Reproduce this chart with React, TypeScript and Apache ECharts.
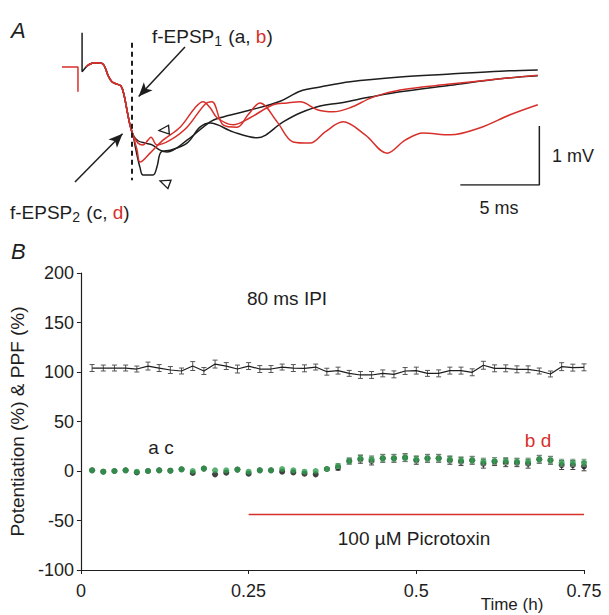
import React, { useEffect, useRef } from "react";
import * as echarts from "echarts";

const FONT = "'Liberation Sans', Arial, Helvetica, sans-serif";
const RED = "#d7302b";
const GREEN = "#2f9e4d";
const INK = "#1e1e1e";

// ---------- Panel A: field EPSP traces, [time (ms), voltage (mV)] ----------
const redArtifact = [[0, 0], [1.01, 0], [1.01, -0.42]];
const blackArtifact = [[1.27, 0.58], [1.27, -0.08], [1.52, 0]];
const commonOnset = [
  [1.52, 0], [1.77, 0.05], [2.15, 0.07], [2.59, 0.05], [2.91, -0.14], [3.16, -0.25],
  [3.48, -0.29], [3.73, -0.32], [3.92, -0.47], [4.11, -0.73], [4.3, -0.98], [4.49, -1.15],
];
const traceBlackA = [
  [4.81, -1.25], [5.25, -1.29], [5.7, -1.32], [6.2, -1.41], [6.65, -1.44], [7.91, -1.24],
  [9.37, -0.93], [10.0, -0.86], [11.9, -0.73], [13.8, -0.58], [15.06, -0.41], [16.33, -0.34],
  [18.23, -0.25], [21.39, -0.17], [24.56, -0.12], [27.72, -0.07], [30.1, -0.05],
];
const traceBlackC = [
  [4.68, -1.41], [4.94, -1.71], [5.13, -1.83], [5.76, -1.83], [6.01, -1.69], [6.27, -1.44],
  [6.84, -1.41], [7.91, -1.29], [8.73, -1.02], [9.37, -0.95], [10.82, -1.1], [12.34, -1.2],
  [13.99, -0.93], [15.06, -0.78], [16.33, -0.66], [17.59, -0.61], [19.49, -0.51], [21.39, -0.42],
  [24.56, -0.31], [27.72, -0.2], [30.1, -0.15],
];
const traceRedB = [
  [4.75, -1.41], [4.94, -1.61], [5.57, -1.46], [6.39, -1.24], [7.47, -1.02], [8.42, -0.69],
  [8.92, -0.59], [9.37, -0.69], [9.81, -0.86], [10.82, -0.98], [11.9, -0.86], [13.35, -0.64],
  [14.24, -0.61], [15.06, -0.59], [16.2, -0.73], [17.15, -0.76], [18.23, -0.69], [19.68, -0.51],
  [21.39, -0.39], [24.56, -0.29], [27.72, -0.2], [30.1, -0.14],
];
const traceRedD = [
  [4.81, -1.29], [5.13, -1.32], [5.44, -1.24], [5.63, -1.19], [6.01, -1.32], [6.84, -1.24],
  [7.91, -1.02], [9.05, -0.63], [9.49, -0.59], [10.19, -0.98], [11.08, -1.02], [11.77, -0.81],
  [12.53, -0.61], [13.61, -0.93], [14.62, -1.27], [15.7, -1.29], [16.65, -1.1], [17.78, -0.93],
  [19.18, -1.15], [20.57, -1.46], [21.71, -1.24], [22.85, -1.12], [24.56, -1.15], [26.46, -1.03],
  [28.35, -0.81], [30.1, -0.64],
];
const scaleBar = [[25.2, -2], [30.2, -2], [30.2, -1]]; // 5 ms, 1 mV
const stimMarkerTime = 4.41;

// ---------- Panel B: time course ----------
const timeMin = [
  1, 2, 3, 4, 5, 6, 7, 8, 9, 10, 11, 12, 13, 14, 15, 16, 17, 18, 19, 20, 21, 22, 23,
  24, 25, 26, 27, 28, 29, 30, 31, 32, 33, 34, 35, 36, 37, 38, 39, 40, 41, 42, 43, 44, 45,
];
const ppf = [
  104, 104, 104, 104, 103, 106, 104, 102, 101, 106, 101, 108, 106, 103, 106, 103, 103, 105, 104,
  103.7, 105, 100.3, 101.4, 98.6, 97, 97, 98.6, 97.6, 101, 101.4, 98.6, 98.6, 101.4, 101.4, 99.7,
  106.8, 103.7, 103.7, 102.7, 102.7, 101, 98, 105.4, 104.4, 104.7,
];
const ppfErr = [
  3.5, 3, 3, 3, 3, 4, 3.5, 3.5, 3, 4.5, 3.5, 4, 3.5, 4, 3.5, 3.5, 3.5, 3, 3.5,
  3.5, 3, 3.5, 3.5, 3, 3.5, 3.5, 3.5, 3.5, 3.5, 3.5, 3, 3.5, 3.5, 3.5, 3.5, 4, 3.5, 3.5, 3.5,
  3.5, 3, 3, 4, 3.5, 3.5,
];
const potGreen = [
  0.7, -0.7, 0, 0.7, -0.7, 0, 0.7, 0.3, 1.7, 0, 2.4, 0.7, 0.7, 1.4, -0.7, 0.7, 0.7, 2, 0.7, -0.7, 0,
  2, 5, 10, 12.8, 11.8, 12.8, 12.8, 13.5, 11.8, 12.8, 12.8, 11.8, 10.8, 10.8, 9.5, 10.1, 10.1, 9.5,
  9.5, 11.8, 10.8, 8.4, 8.4, 8.4,
];
const potGreenErr = [
  0, 0, 0, 0, 0, 0, 0, 0, 0, 0, 0, 0, 0, 0, 0, 0, 0, 0, 0, 0, 0,
  1.5, 2.5, 3, 3.5, 3.5, 3.5, 3.5, 3.5, 3.5, 3.5, 3.5, 3.5, 3.5, 3.5, 3.5, 3.5, 3.5, 3.5, 3.5, 3.5,
  3.5, 3.5, 3.5, 3.5,
];
const potBlack = [
  0.7, -0.7, 0, 0.7, -1.5, 0, 0.7, 0.3, 1.7, -2, 2.4, -3.4, -1.7, 1.4, -2.7, 0.7, 0.7, -0.7, -1.4,
  -2.7, -3.4, 2, 3.4, 10, 11.8, 10.1, 12.8, 12.8, 13.5, 10.8, 12.8, 12.8, 10.8, 9.5, 10.8, 7.4, 9.5,
  8.4, 8.4, 7.4, 11.8, 10.8, 6, 6, 4.7,
];
const potBlackErr = [
  0, 0, 0, 0, 0, 0, 0, 0, 0, 0, 0, 0, 0, 0, 0, 0, 0, 0, 0, 0, 0,
  1.5, 2.5, 3, 4, 4, 4, 4, 4, 4, 4, 4, 4, 4, 4, 4.5, 4, 4, 4, 4.5, 4, 4, 4.5, 4.5, 4.5,
];
const picrotoxinSpan = [0.25, 0.75];
const picrotoxinLevel = -44;

const xTicksB = [0, 0.25, 0.5, 0.75];
const yTicksB = [-100, -50, 0, 50, 100, 150, 200];

const hours = timeMin.map((m) => m / 60);

function errorBars(color: string, cap: number) {
  return (params: any, api: any) => {
    const x = api.value(0);
    const y = api.value(1);
    const e = api.value(2);
    if (!e) return { type: "group", children: [] };
    const top = api.coord([x, y + e]);
    const bot = api.coord([x, y - e]);
    const st = { stroke: color, lineWidth: 1 };
    return {
      type: "group",
      children: [
        { type: "line", shape: { x1: top[0], y1: top[1], x2: bot[0], y2: bot[1] }, style: st },
        { type: "line", shape: { x1: top[0] - cap, y1: top[1], x2: top[0] + cap, y2: top[1] }, style: st },
        { type: "line", shape: { x1: bot[0] - cap, y1: bot[1], x2: bot[0] + cap, y2: bot[1] }, style: st },
      ],
    };
  };
}

function buildOption(): any {
  const traceLine = (data: number[][], color: string, smooth: number | boolean = 0.35) => ({
    type: "line",
    xAxisIndex: 0,
    yAxisIndex: 0,
    data,
    smooth,
    showSymbol: false,
    symbol: "none",
    silent: true,
    lineStyle: { color, width: 1.5 },
    z: 3,
  });

  const textStyle = (fs: number) => ({ fontFamily: FONT, fontSize: fs, fill: INK });
  const richSub = {
    n: { fontFamily: FONT, fontSize: 19, fill: INK, lineHeight: 24 },
    s: { fontFamily: FONT, fontSize: 14, fill: INK, lineHeight: 24, verticalAlign: "bottom", padding: [10, 1, 0, 0] },
    r: { fontFamily: FONT, fontSize: 19, fill: RED, lineHeight: 24 },
  };

  return {
    animation: false,
    backgroundColor: "#ffffff",
    grid: [
      { left: 62, top: 25.7, width: 490, height: 159.3 },
      { left: 77, top: 273, width: 507, height: 297 },
    ],
    xAxis: [
      { gridIndex: 0, type: "value", min: 0, max: 31, show: false },
      {
        gridIndex: 1,
        type: "value",
        min: xTicksB[0],
        max: xTicksB[xTicksB.length - 1],
        interval: 0.25,
        axisLine: { show: true, onZero: false, lineStyle: { color: INK, width: 1.2 } },
        axisTick: { show: true, length: 4, lineStyle: { color: INK } },
        axisLabel: { color: INK, fontSize: 18, fontFamily: FONT, margin: 12 },
        splitLine: { show: false },
      },
    ],
    yAxis: [
      { gridIndex: 0, type: "value", min: -2, max: 0.7, show: false },
      {
        gridIndex: 1,
        type: "value",
        min: yTicksB[0],
        max: yTicksB[yTicksB.length - 1],
        interval: 50,
        name: "Potentiation (%) & PPF (%)",
        nameLocation: "middle",
        nameGap: 52,
        nameTextStyle: { color: INK, fontSize: 19, fontFamily: FONT },
        axisLine: { show: true, onZero: false, lineStyle: { color: INK, width: 1.2 } },
        axisTick: { show: true, length: 4, lineStyle: { color: INK } },
        axisLabel: { color: INK, fontSize: 18, fontFamily: FONT, margin: 7 },
        splitLine: { show: false },
      },
    ],
    series: [
      // ---- Panel A ----
      traceLine([...blackArtifact], INK, false),
      traceLine([...commonOnset, ...traceBlackA], INK),
      traceLine([...commonOnset, ...traceBlackC], INK),
      traceLine(redArtifact, RED, false),
      traceLine([...commonOnset, ...traceRedB], RED),
      traceLine([...commonOnset, ...traceRedD], RED),
      {
        ...traceLine(scaleBar, INK, false),
        lineStyle: { color: INK, width: 1.5 },
        markLine: {
          silent: true,
          animation: false,
          label: { show: false },
          symbol: ["none", "none"],
          lineStyle: { color: INK, width: 1.5, type: "solid" },
          data: [
            [
              { coord: [stimMarkerTime, 0.41], symbol: "none", lineStyle: { type: [5, 4], width: 2, color: INK } },
              { coord: [stimMarkerTime, -1.92], symbol: "none" },
            ],
            [
              { coord: [7.78, 0.34], symbol: "none" },
              { coord: [4.85, -0.5], symbol: "arrow", symbolSize: [9, 14] },
            ],
            [
              { coord: [0.82, -1.95], symbol: "none" },
              { coord: [3.83, -1.13], symbol: "arrow", symbolSize: [9, 14] },
            ],
          ],
        },
        markPoint: {
          silent: true,
          animation: false,
          label: { show: false },
          symbol: "triangle",
          symbolSize: [9, 10],
          itemStyle: { color: "#ffffff", borderColor: INK, borderWidth: 1.3 },
          data: [
            { coord: [6.45, -1.07], symbolRotate: 95 },
            { coord: [6.5, -1.96], symbolRotate: 70 },
          ],
        },
      },
      // ---- Panel B ----
      {
        type: "line",
        xAxisIndex: 1,
        yAxisIndex: 1,
        data: hours.map((h, i) => [h, ppf[i]]),
        showSymbol: false,
        symbol: "none",
        lineStyle: { color: INK, width: 1.2 },
        z: 3,
      },
      {
        type: "custom",
        xAxisIndex: 1,
        yAxisIndex: 1,
        data: hours.map((h, i) => [h, ppf[i], ppfErr[i]]),
        renderItem: errorBars("#555555", 2.5),
        z: 2,
      },
      {
        type: "custom",
        xAxisIndex: 1,
        yAxisIndex: 1,
        data: hours.map((h, i) => [h, potBlack[i], potBlackErr[i]]),
        renderItem: errorBars("#444444", 2.5),
        z: 2,
      },
      {
        type: "scatter",
        xAxisIndex: 1,
        yAxisIndex: 1,
        data: hours.map((h, i) => [h, potBlack[i]]),
        symbol: "circle",
        symbolSize: 6,
        itemStyle: { color: "#111111" },
        z: 3,
      },
      {
        type: "custom",
        xAxisIndex: 1,
        yAxisIndex: 1,
        data: hours.map((h, i) => [h, potGreen[i], potGreenErr[i]]),
        renderItem: errorBars("#7a9a80", 2.5),
        z: 4,
      },
      {
        type: "scatter",
        xAxisIndex: 1,
        yAxisIndex: 1,
        data: hours.map((h, i) => [h, potGreen[i]]),
        symbol: "circle",
        symbolSize: 6,
        itemStyle: { color: GREEN },
        z: 5,
      },
      {
        type: "line",
        xAxisIndex: 1,
        yAxisIndex: 1,
        data: picrotoxinSpan.map((t) => [t, picrotoxinLevel]),
        showSymbol: false,
        symbol: "none",
        lineStyle: { color: RED, width: 1.5 },
      },
    ],
    graphic: {
      elements: [
        { type: "text", x: 11, y: 30, style: { text: "A", fontFamily: FONT, fontSize: 22, fontStyle: "italic", fill: INK, textVerticalAlign: "middle" } },
        { type: "text", x: 11, y: 251, style: { text: "B", fontFamily: FONT, fontSize: 22, fontStyle: "italic", fill: INK, textVerticalAlign: "middle" } },
        {
          type: "text",
          x: 152,
          y: 36,
          style: { text: "{n|f-EPSP}{s|1}{n| (a, }{r|b}{n|)}", textVerticalAlign: "middle", rich: richSub },
        },
        {
          type: "text",
          x: 10,
          y: 212,
          style: { text: "{n|f-EPSP}{s|2}{n| (c, }{r|d}{n|)}", textVerticalAlign: "middle", rich: richSub },
        },
        { type: "text", x: 552, y: 156, style: { text: "1 mV", ...textStyle(18), textVerticalAlign: "middle" } },
        { type: "text", x: 499, y: 208, style: { text: "5 ms", ...textStyle(18), textAlign: "center", textVerticalAlign: "middle" } },
        { type: "text", x: 287, y: 298, style: { text: "80 ms IPI", ...textStyle(19), textAlign: "center", textVerticalAlign: "middle" } },
        { type: "text", x: 161, y: 447, style: { text: "a c", ...textStyle(19), textAlign: "center", textVerticalAlign: "middle" } },
        { type: "text", x: 538, y: 440, style: { text: "b d", fontFamily: FONT, fontSize: 19, fill: RED, textAlign: "center", textVerticalAlign: "middle" } },
        { type: "text", x: 414, y: 538, style: { text: "100 µM Picrotoxin", ...textStyle(19), textAlign: "center", textVerticalAlign: "middle" } },
        { type: "text", x: 512, y: 604, style: { text: "Time (h)", ...textStyle(17), textAlign: "center", textVerticalAlign: "middle" } },
      ],
    },
  };
}

export default function App() {
  const ref = useRef<HTMLDivElement>(null);
  useEffect(() => {
    if (!ref.current) return;
    const chart = echarts.init(ref.current, undefined, { renderer: "svg" });
    chart.setOption(buildOption());
    return () => chart.dispose();
  }, []);
  return (
    <div
      ref={ref}
      style={{ position: "fixed", left: 0, top: 0, width: 609, height: 615, background: "#fff" }}
    />
  );
}
